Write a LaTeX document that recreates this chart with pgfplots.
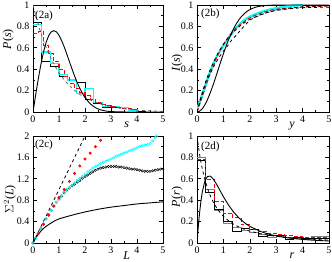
\documentclass[border=0pt]{standalone}
\usepackage{fontspec}
\setmainfont{Liberation Serif}
\usepackage{pgfplots}
\pgfplotsset{compat=1.18}
\definecolor{cy}{RGB}{0,255,255}
\definecolor{rd}{RGB}{255,0,0}
\pgfplotsset{
  myax/.style={scale only axis, height=107pt,
    xmin=0, xmax=5, xtick={0,1,2,3,4,5}, minor x tick num=1,
    tick align=inside, major tick length=4pt, minor tick length=2pt,
    every tick/.style={line width=0.6pt, black},
    axis line style={line width=0.8pt},
    /pgf/number format/assume math mode=true,
    ticklabel style={font=\fontsize{10}{12}\selectfont},
    label style={font=\fontsize{12}{14}\selectfont},
    xlabel style={at={(axis description cs:0.72,0)}, anchor=base, yshift=-16pt},
    clip=true},
}
\tikzset{plab/.style={font=\fontsize{11}{13}\selectfont, anchor=west, inner sep=0pt}}
\begin{document}
\begin{tikzpicture}
\useasboundingbox (0,0) rectangle (332pt,262pt);
% ---------- (2a)
\begin{axis}[myax, at={(33pt,150pt)}, anchor=south west, width=130pt,
  ymin=0, ymax=1, ytick={0,0.2,0.4,0.6,0.8,1}, minor y tick num=1,
  xlabel={\textit{s}}, ylabel={\textit{P}(\textit{s})},
  ylabel style={at={(axis description cs:-0.19,0.68)}, anchor=center}]
\addplot[black, line width=0.8pt, const plot] coordinates {(0,0.84)(0.3333,0.47)(0.6667,0.43)(1,0.33)(1.3333,0.30)(1.6667,0.28)(2,0.12)(2.3333,0.08)(2.6667,0.04)(3,0.04)(3.3333,0.04)(3.6667,0.02)(4,0.005)(4.3333,0.005)(4.3333,0)};
\addplot[cy, line width=1.3pt, const plot] coordinates {(0,0.82)(0.3333,0.56)(0.6667,0.45)(1,0.35)(1.3333,0.30)(1.6667,0.17)(2,0.22)(2.3333,0.09)(2.6667,0.05)(3,0.05)(3.3333,0.04)(3.6667,0.02)(4,0.02)(4,0)};
\addplot[rd, line width=1.1pt, const plot, dash pattern=on 4pt off 2pt] coordinates {(0,0.73)(0.2,0.75)(0.4,0.62)(0.6,0.55)(0.8,0.47)(1.0,0.40)(1.2,0.33)(1.4,0.27)(1.6,0.22)(1.8,0.18)(2.0,0.15)(2.2,0.12)(2.4,0.09)(2.6,0.07)(2.8,0.06)(3.0,0.05)(3.2,0.04)(3.4,0.03)(3.6,0.03)(3.8,0.02)(4.0,0.02)(4.0,0)};
\addplot[black!60, line width=0.8pt, dashed, smooth] coordinates {(0,1)(0.1,0.905)(0.2,0.819)(0.3,0.741)(0.4,0.670)(0.5,0.607)(0.6,0.549)(0.7,0.497)(0.8,0.449)(0.9,0.407)(1,0.368)(1.2,0.301)(1.4,0.247)(1.6,0.202)(1.8,0.165)(2,0.135)(2.5,0.082)(3,0.050)(3.5,0.030)(4,0.018)(4.5,0.011)(5,0.0067)};
\addplot[black, line width=0.9pt, smooth] coordinates {(0,0)(0.1,0.1559)(0.2,0.3045)(0.3,0.4391)(0.4,0.5541)(0.5,0.6454)(0.6,0.7104)(0.7,0.7484)(0.8,0.7602)(0.9,0.7484)(1.0,0.7161)(1.1,0.6681)(1.2,0.6084)(1.3,0.5415)(1.4,0.4717)(1.5,0.4025)(1.6,0.3364)(1.7,0.2759)(1.8,0.2218)(1.9,0.1750)(2.0,0.1358)(2.2,0.0774)(2.4,0.0409)(2.6,0.0202)(2.8,0.0093)(3.0,0.0040)(3.5,0.0003)(4,0)(5,0)};
\node[plab] at (axis description cs:0.015,0.9) {(2a)};
\end{axis}
% ---------- (2b)
\begin{axis}[myax, at={(197pt,150pt)}, anchor=south west, width=132pt,
  ymin=0, ymax=1, ytick={0,0.2,0.4,0.6,0.8,1}, minor y tick num=1,
  xlabel={\textit{y}}, ylabel={\textit{I}(\textit{s})},
  ylabel style={at={(axis description cs:-0.152,0.46)}, anchor=center}]
\addplot[cy, line width=2.4pt, smooth] coordinates {(0,0.02)(0.25,0.2)(0.5,0.38)(0.75,0.52)(1,0.62)(1.25,0.71)(1.5,0.79)(1.75,0.85)(2,0.89)(2.5,0.94)(3,0.97)(3.5,0.99)(4,1.0)};
\addplot[rd, line width=1.0pt, dash pattern=on 4pt off 2pt, smooth] coordinates {(0,0)(0.25,0.18)(0.5,0.36)(0.75,0.51)(1,0.63)(1.25,0.72)(1.5,0.79)(2,0.88)(2.5,0.93)(3,0.96)(4,0.98)(5,0.99)};
\addplot[black, line width=0.8pt, dashed] coordinates {(0,0)(0.2,0.17)(0.3333,0.28)(0.5,0.36)(0.6667,0.44)(0.8333,0.51)(1,0.57)(1.1667,0.62)(1.3333,0.68)(1.5,0.72)(1.6667,0.77)(2,0.86)(2.3333,0.90)(2.6667,0.93)(3,0.95)(3.5,0.965)(4,0.975)(5,0.98)};
\addplot[black, line width=0.8pt, dashed, smooth] coordinates {(0,0)(0.1,0.095)(0.2,0.181)(0.3,0.259)(0.4,0.330)(0.5,0.393)(0.6,0.451)(0.7,0.503)(0.8,0.551)(0.9,0.593)(1,0.632)(1.2,0.699)(1.4,0.753)(1.6,0.798)(1.8,0.835)(2,0.865)(2.5,0.918)(3,0.950)(3.5,0.970)(4,0.982)(4.5,0.989)(5,0.993)};
\addplot[black, line width=0.9pt, smooth] coordinates {(0,0)(0.1,0.0078)(0.2,0.0309)(0.3,0.0683)(0.4,0.1181)(0.5,0.1783)(0.6,0.2463)(0.7,0.3194)(0.8,0.395)(0.9,0.4707)(1,0.5441)(1.1,0.6134)(1.2,0.6773)(1.3,0.7348)(1.4,0.7855)(1.5,0.8291)(1.6,0.8661)(1.7,0.8967)(1.8,0.9215)(1.9,0.9413)(2.0,0.9568)(2.2,0.9777)(2.4,0.9892)(2.6,0.9951)(2.8,0.9979)(3,0.9991)(3.5,0.9999)(5,1)};
\node[plab] at (axis description cs:0.03,0.915) {(2b)};
\end{axis}
% ---------- (2c)
\begin{axis}[myax, at={(33pt,19pt)}, anchor=south west, width=130pt,
  ymin=0, ymax=2, ytick={0,0.4,0.8,1.2,1.6,2}, minor y tick num=1,
  xlabel={\textit{L}}, ylabel={$\Sigma^2$(\textit{L})},
  ylabel style={at={(axis description cs:-0.177,0.41)}, anchor=center},
  xlabel style={yshift=-1pt}]
\addplot[black, line width=0.8pt, dashed] coordinates {(0,0)(2.1,2.1)};
\addplot[black, line width=0.9pt, smooth] coordinates {(0,0)(0.1,0.09)(0.2,0.16)(0.3,0.22)(0.4,0.27)(0.5,0.31)(0.75,0.39)(1,0.45)(1.5,0.52)(2,0.58)(2.5,0.63)(3,0.67)(3.5,0.70)(4,0.73)(4.5,0.75)(5,0.77)};
\addplot[only marks, mark=o, mark size=1.2pt, black, mark options={line width=0.5pt}] coordinates {(0,0)(0.1,0.09)(0.2,0.18)(0.3,0.27)(0.4,0.36)(0.5,0.45)(0.6,0.53)(0.7,0.61)(0.8,0.69)(0.9,0.76)(1.0,0.82)(1.1,0.88)(1.2,0.94)(1.3,0.99)(1.4,1.03)(1.5,1.07)(1.6,1.10)(1.7,1.14)(1.8,1.17)(1.9,1.21)(2.0,1.24)(2.1,1.27)(2.2,1.30)(2.3,1.33)(2.4,1.36)(2.5,1.38)(2.6,1.40)(2.7,1.41)(2.8,1.42)(2.9,1.43)(3.0,1.43)(3.1,1.43)(3.2,1.43)(3.3,1.42)(3.4,1.42)(3.5,1.41)(3.6,1.40)(3.7,1.39)(3.8,1.38)(3.9,1.38)(4.0,1.37)(4.1,1.36)(4.2,1.35)(4.3,1.34)(4.4,1.34)(4.5,1.34)(4.6,1.35)(4.7,1.36)(4.8,1.37)(4.9,1.38)(5.0,1.38)};
\addplot[only marks, mark=o, mark size=1.2pt, cy, mark options={line width=0.6pt}] coordinates {(0,0)(0.1,0.09)(0.2,0.18)(0.3,0.27)(0.4,0.36)(0.5,0.45)(0.6,0.53)(0.7,0.61)(0.8,0.69)(0.9,0.76)(1.0,0.83)(1.1,0.89)(1.2,0.95)(1.3,1.0)(1.4,1.04)(1.5,1.08)(1.6,1.12)(1.7,1.17)(1.8,1.21)(1.9,1.25)(2.0,1.29)(2.1,1.33)(2.2,1.36)(2.3,1.40)(2.4,1.43)(2.5,1.46)(2.6,1.49)(2.7,1.51)(2.8,1.53)(2.9,1.55)(3.0,1.57)(3.1,1.59)(3.2,1.62)(3.3,1.64)(3.4,1.66)(3.5,1.68)(3.6,1.70)(3.7,1.72)(3.8,1.74)(3.9,1.76)(4.0,1.78)(4.1,1.80)(4.2,1.82)(4.3,1.83)(4.4,1.84)(4.5,1.86)(4.6,1.91)(4.7,1.97)(4.75,2.0)};
\addplot[only marks, mark=*, mark size=1.3pt, rd] coordinates {(0.2,0.17)(0.4,0.35)(0.6,0.52)(0.8,0.69)(1.0,0.85)(1.2,1.0)(1.4,1.15)(1.6,1.3)(1.8,1.44)(2.0,1.57)(2.2,1.68)(2.4,1.8)(2.6,1.92)};
\node[plab] at (axis description cs:0.015,0.916) {(2c)};
\end{axis}
% ---------- (2d)
\begin{axis}[myax, at={(197pt,19pt)}, anchor=south west, width=132pt,
  ymin=0, ymax=1, ytick={0,0.2,0.4,0.6,0.8,1}, minor y tick num=1,
  xlabel={\textit{r}}, ylabel={\textit{P}(\textit{r})},
  ylabel style={at={(axis description cs:-0.152,0.43)}, anchor=center}]
\addplot[black!50, line width=0.8pt, const plot] coordinates {(0,0.80)(0.3333,0.50)(0.6667,0.30)(1,0.18)(1.3333,0.15)(1.6667,0.12)(2,0.10)(2.3333,0.08)(2.6667,0.05)(3,0.06)(3.3333,0.05)(3.6667,0.04)(4,0.03)(4.3333,0.06)(4.6667,0.06)(5,0.06)};
\addplot[black, line width=0.8pt, const plot] coordinates {(0,0.77)(0.3333,0.47)(0.6667,0.31)(1,0.20)(1.3333,0.11)(1.6667,0.14)(2,0.13)(2.3333,0.06)(2.6667,0.07)(3,0.07)(3.3333,0.03)(3.6667,0.05)(4,0.04)(4.3333,0.04)(4.6667,0.04)(5,0.04)};
\addplot[rd, line width=1.0pt, const plot, dash pattern=on 4pt off 2pt] coordinates {(0,0.78)(0.3333,0.595)(0.6667,0.39)(1,0.28)(1.3333,0.24)(1.6667,0.17)(2,0.13)(2.3333,0.11)(2.6667,0.09)(3,0.08)(3.3333,0.07)(3.6667,0.06)(4,0.05)(4.3333,0.05)(4.6667,0.05)(5,0.05)};
\addplot[black, line width=0.8pt, dashed, smooth] coordinates {(0,1)(0.1,0.826)(0.2,0.694)(0.3,0.592)(0.4,0.510)(0.5,0.444)(0.6,0.391)(0.7,0.346)(0.8,0.309)(0.9,0.277)(1,0.25)(1.2,0.207)(1.4,0.174)(1.6,0.148)(1.8,0.128)(2,0.111)(2.5,0.0816)(3,0.0625)(3.5,0.0494)(4,0.04)(4.5,0.033)(5,0.0278)};
\addplot[black, line width=0.9pt, smooth] coordinates {(0,0)(0.05,0.156)(0.1,0.286)(0.15,0.391)(0.2,0.473)(0.3,0.578)(0.4,0.622)(0.5,0.625)(0.6,0.602)(0.7,0.566)(0.8,0.523)(1.0,0.433)(1.2,0.353)(1.4,0.286)(1.6,0.232)(1.8,0.190)(2.0,0.156)(2.5,0.0995)(3.0,0.0665)(3.5,0.0463)(4.0,0.0334)(4.5,0.0248)(5.0,0.0189)};
\node[plab] at (axis description cs:0.03,0.9) {(2d)};
\end{axis}
\end{tikzpicture}
\end{document}
